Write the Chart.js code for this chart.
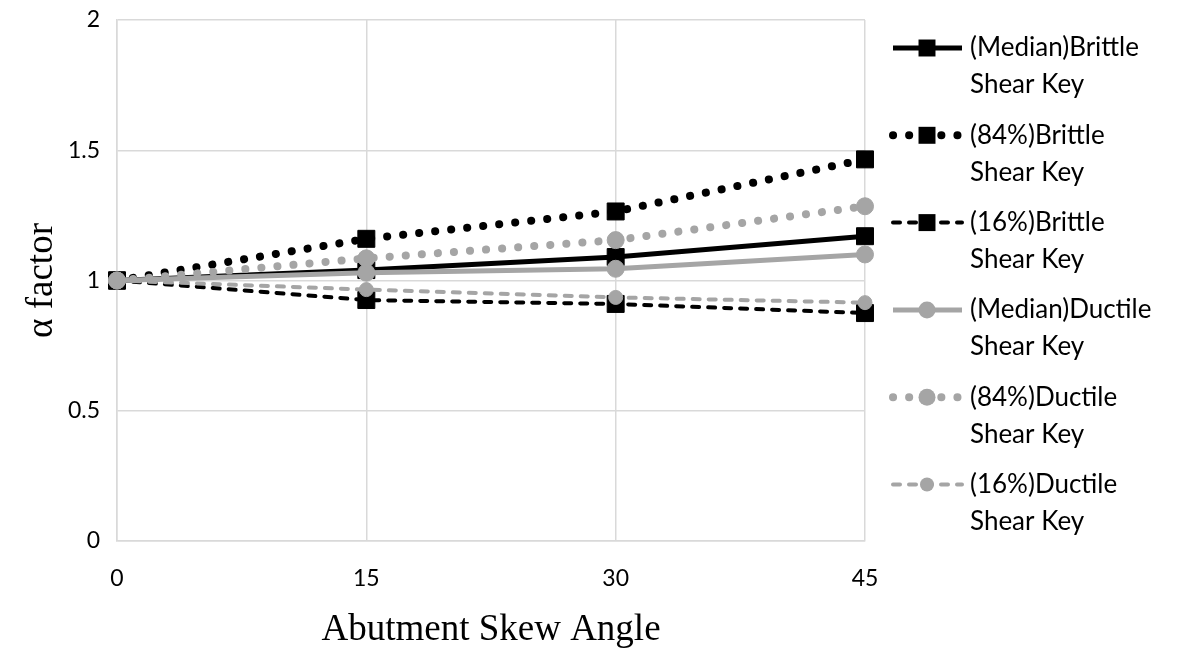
<!DOCTYPE html>
<html>
<head>
<meta charset="utf-8">
<script src="https://cdn.jsdelivr.net/npm/chart.js@4.4.0/dist/chart.umd.min.js"></script>
<style>
  body { margin: 0; background: #fff; }
  #wrap { width: 1196px; height: 656px; position: relative; }
</style>
</head>
<body>
<div id="wrap"><canvas id="chart"></canvas></div>
<script>
// skew angles (deg) and alpha factors per case
var angles = [0, 15, 30, 45];
var medianBrittle = [1, 1.04, 1.09, 1.17];
var p84Brittle = [1, 1.16, 1.265, 1.465];
var p16Brittle = [1, 0.925, 0.91, 0.875];
var medianDuctile = [1, 1.03, 1.045, 1.10];
var p84Ductile = [1, 1.085, 1.155, 1.285];
var p16Ductile = [1, 0.965, 0.935, 0.915];

var seriesNames = [
  ['(Median)Brittle', 'Shear Key'],
  ['(84%)Brittle', 'Shear Key'],
  ['(16%)Brittle', 'Shear Key'],
  ['(Median)Ductile', 'Shear Key'],
  ['(84%)Ductile', 'Shear Key'],
  ['(16%)Ductile', 'Shear Key']
];

var BLACK = '#000000';
var GRAY = '#a5a5a5';
var DOT = [0.1, 16];
var DASH = [7, 9];

function pts(vals) {
  return vals.map(function (v, i) { return { x: angles[i], y: v }; });
}

function series(idx, vals, color, width, dash, cap, shape, r) {
  return {
    label: seriesNames[idx].join(' '),
    data: pts(vals),
    borderColor: color,
    backgroundColor: color,
    borderWidth: width,
    borderDash: dash,
    borderCapStyle: cap,
    pointStyle: shape,
    pointRadius: r,
    pointHoverRadius: r,
    pointBackgroundColor: color,
    pointBorderColor: color,
    pointBorderWidth: 1,
    tension: 0,
    clip: false,
    order: 6 - idx
  };
}

var datasets = [
  series(0, medianBrittle, BLACK, 5, [], 'butt', 'rect', 12),
  series(1, p84Brittle, BLACK, 8, DOT, 'round', 'rect', 12),
  series(2, p16Brittle, BLACK, 4, DASH, 'round', 'rect', 12),
  series(3, medianDuctile, GRAY, 5, [], 'butt', 'circle', 8.5),
  series(4, p84Ductile, GRAY, 8, DOT, 'round', 'circle', 8.5),
  series(5, p16Ductile, GRAY, 4, DASH, 'round', 'circle', 7)
];

// legend on the right with two-line labels
var sideLegend = {
  id: 'sideLegend',
  afterDraw: function (chart) {
    var ctx = chart.ctx;
    ctx.save();
    datasets.forEach(function (ds, i) {
      var y = 48 + i * 87.3;
      var x0 = 893, x1 = 962, xm = 927;
      ctx.strokeStyle = ds.borderColor;
      ctx.lineWidth = ds.borderWidth;
      ctx.lineCap = ds.borderCapStyle;
      ctx.setLineDash(ds.borderDash);
      ctx.beginPath();
      ctx.moveTo(x0, y);
      ctx.lineTo(x1, y);
      ctx.stroke();
      ctx.setLineDash([]);
      ctx.fillStyle = ds.pointBackgroundColor;
      ctx.beginPath();
      if (ds.pointStyle === 'rect') {
        var s = ds.pointRadius * Math.SQRT1_2;
        ctx.rect(xm - s, y - s, 2 * s, 2 * s);
      } else {
        ctx.arc(xm, y, ds.pointRadius, 0, Math.PI * 2);
      }
      ctx.fill();
      ctx.fillStyle = '#000';
      ctx.font = '26px Lato, "Open Sans", sans-serif';
      ctx.textBaseline = 'middle';
      ctx.textAlign = 'left';
      ctx.fillText(seriesNames[i][0], 970, y);
      ctx.fillText(seriesNames[i][1], 970, y + 37);
    });
    ctx.restore();
  }
};

var tickFont = { family: 'Lato, "Open Sans", sans-serif', size: 23 };
var titleFont = { family: '"Liberation Serif", "Times New Roman", serif', size: 37 };

new Chart(document.getElementById('chart'), {
  type: 'line',
  data: { datasets: datasets },
  options: {
    responsive: true,
    maintainAspectRatio: false,
    animation: false,
    layout: { padding: { top: 20, right: 331, left: 0, bottom: 0 } },
    plugins: {
      legend: { display: false },
      tooltip: { enabled: false }
    },
    scales: {
      x: {
        type: 'linear',
        min: 0,
        max: 45,
        ticks: { stepSize: 15, color: '#000', font: tickFont, padding: 24 },
        grid: { color: '#d9d9d9', lineWidth: 1.5, drawTicks: false },
        border: { color: '#d9d9d9', width: 1.5 },
        title: { display: true, text: 'Abutment Skew Angle', color: '#000', font: titleFont, padding: { top: 0, bottom: 4 } },
        afterFit: function (s) {
          s.height = 115;
          s.paddingLeft = 0;
          s.paddingRight = 0;
        }
      },
      y: {
        min: 0,
        max: 2,
        ticks: {
          stepSize: 0.5, color: '#000', font: tickFont, padding: 17,
          callback: function (v) { return String(v); }
        },
        grid: { color: '#d9d9d9', lineWidth: 1.5, drawTicks: false },
        border: { color: '#d9d9d9', width: 1.5 },
        title: { display: true, text: 'α factor', color: '#000', font: titleFont, padding: { top: 20, bottom: 0 } },
        afterFit: function (s) {
          s.width = 117;
          s.paddingTop = 0;
          s.paddingBottom = 0;
        }
      }
    }
  },
  plugins: [sideLegend]
});
</script>
</body>
</html>
